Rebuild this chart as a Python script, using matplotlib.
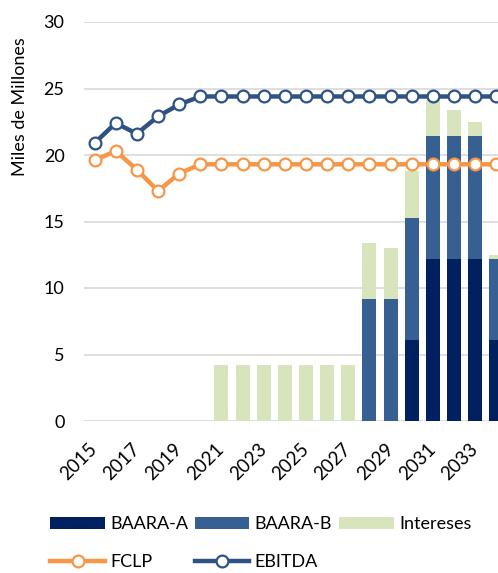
import matplotlib
matplotlib.use("Agg")
import matplotlib.pyplot as plt
import matplotlib.transforms as mtransforms
from matplotlib.patches import Patch
from matplotlib.lines import Line2D

# years shown on the x axis (the chart is cut at 2034)
years = list(range(2015, 2035))

# stacked bars (miles de millones)
baara_a = [0, 0, 0, 0, 0, 0, 0, 0, 0, 0, 0, 0, 0, 0, 0, 6.1, 12.2, 12.2, 12.2, 6.1]
baara_b = [0, 0, 0, 0, 0, 0, 0, 0, 0, 0, 0, 0, 0, 9.2, 9.2, 9.2, 9.2, 9.2, 9.2, 6.1]
intereses = [0, 0, 0, 0, 0, 0, 4.2, 4.2, 4.2, 4.2, 4.2, 4.2, 4.2, 4.2, 3.8, 3.5, 2.7, 2.0, 1.1, 0.3]

# lines
fclp = [19.6, 20.3, 18.9, 17.3, 18.6, 19.3, 19.3, 19.3, 19.3, 19.3, 19.3, 19.3, 19.3,
        19.3, 19.3, 19.3, 19.3, 19.3, 19.3, 19.3]
ebitda = [20.9, 22.4, 21.6, 22.9, 23.8, 24.4, 24.4, 24.4, 24.4, 24.4, 24.4, 24.4, 24.4,
          24.4, 24.4, 24.4, 24.4, 24.4, 24.4, 24.4]

tick_years = list(range(2015, 2035, 2))

C_A = "#002060"
C_B = "#376092"
C_I = "#D8E4BC"
C_FCLP = "#F79646"
C_EBITDA = "#2E5283"

plt.rcParams["font.family"] = ["Lato", "DejaVu Sans"]

fig = plt.figure(figsize=(4.98, 5.73), dpi=100)
ax = fig.add_axes([84 / 498, 152 / 573, 1 - 84 / 498, (421 - 22) / 573])

w = 0.66
bottom_b = baara_a
bottom_i = [a + b for a, b in zip(baara_a, baara_b)]
ax.bar(years, baara_a, width=w, color=C_A, zorder=2)
ax.bar(years, baara_b, width=w, bottom=bottom_b, color=C_B, zorder=2)
ax.bar(years, intereses, width=w, bottom=bottom_i, color=C_I, zorder=2)

line_kw = dict(linewidth=3.2, marker="o", markersize=8.5, markerfacecolor="white",
               markeredgewidth=1.6, zorder=3, solid_joinstyle="round")
ax.plot(years, fclp, color=C_FCLP, markeredgecolor=C_FCLP, **line_kw)
ax.plot(years, ebitda, color=C_EBITDA, markeredgecolor=C_EBITDA, **line_kw)

ax.set_ylim(0, 30)
ax.set_yticks(range(0, 31, 5))
ax.set_xlim(2014.5, 2034.08)
ax.set_xticks(tick_years)
ax.set_xticklabels([str(y) for y in tick_years], rotation=45, ha="right", va="top",
                   rotation_mode="anchor")
ax.tick_params(axis="both", length=0, labelsize=13, colors="#000000")
ax.tick_params(axis="x", pad=14, labelsize=13.5)
ax.tick_params(axis="y", pad=14)
ax.grid(axis="y", color="#D9D9D9", linewidth=1.2, zorder=0)
ax.set_axisbelow(True)
for s in ax.spines.values():
    s.set_visible(False)

# nudge the rotated year labels a little to the left
shift = mtransforms.ScaledTranslation(-6 / 100, 0, fig.dpi_scale_trans)
for lbl in ax.get_xticklabels():
    lbl.set_transform(lbl.get_transform() + shift)

fig.text(20 / 498, 1 - 107 / 573, "Miles de Millones", rotation=90,
         ha="center", va="center", fontsize=13)

handles = [
    Patch(facecolor=C_A, label="BAARA-A"),
    Line2D([], [], color=C_FCLP, markeredgecolor=C_FCLP, label="FCLP", **line_kw),
    Patch(facecolor=C_B, label="BAARA-B"),
    Line2D([], [], color=C_EBITDA, markeredgecolor=C_EBITDA, label="EBITDA", **line_kw),
    Patch(facecolor=C_I, label="Intereses"),
]
fig.legend(handles=handles, ncol=3, loc="center", bbox_to_anchor=(0.524, 0.052),
           frameon=False, fontsize=13, handlelength=3.0, handleheight=0.7,
           handletextpad=0.3, columnspacing=0.4, labelspacing=1.2, borderpad=0,
           numpoints=1)

fig.savefig("out.png", dpi=100)
